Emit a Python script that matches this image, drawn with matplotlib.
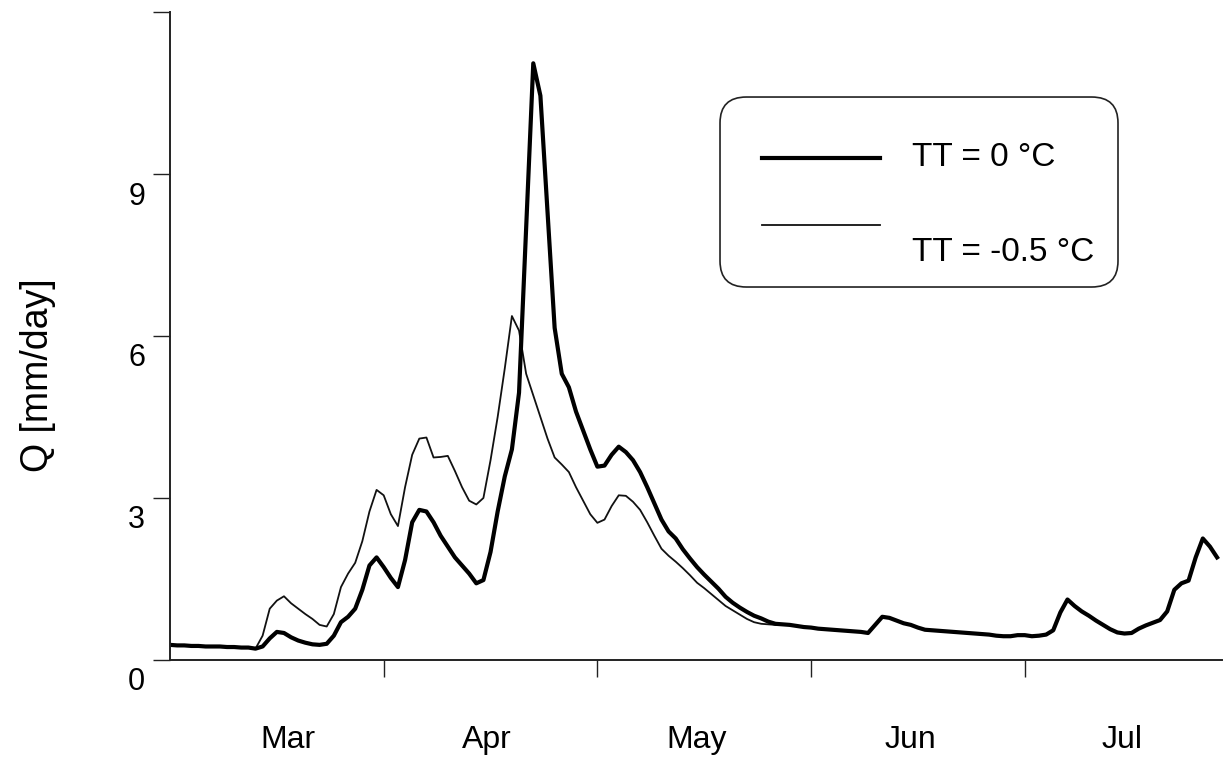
import numpy as np
import matplotlib
matplotlib.use('Agg')
import matplotlib.pyplot as plt
import matplotlib.transforms as mtransforms
from matplotlib.patches import FancyBboxPatch

plt.rcParams['font.family'] = ['Liberation Sans', 'DejaVu Sans']

# daily runoff, day 0 = start of the period shown
q_tt0 = [0.28, 0.27, 0.27, 0.26, 0.26, 0.25, 0.25, 0.25, 0.24, 0.24,
         0.23, 0.23, 0.21, 0.25, 0.40, 0.52, 0.50, 0.42, 0.36, 0.32,
         0.29, 0.28, 0.30, 0.45, 0.70, 0.80, 0.95, 1.30, 1.75, 1.90,
         1.72, 1.52, 1.35, 1.85, 2.55, 2.78, 2.75, 2.55, 2.30, 2.10,
         1.90, 1.75, 1.60, 1.42, 1.48, 2.00, 2.75, 3.40, 3.90, 4.95,
         8.00, 11.05, 10.45, 8.30, 6.15, 5.30, 5.05, 4.60, 4.25, 3.90,
         3.58, 3.60, 3.80, 3.95, 3.85, 3.70, 3.48, 3.20, 2.90, 2.60,
         2.38, 2.25, 2.05, 1.88, 1.72, 1.58, 1.45, 1.32, 1.17, 1.06,
         0.97, 0.89, 0.82, 0.77, 0.71, 0.67, 0.66, 0.65, 0.63, 0.61,
         0.60, 0.58, 0.57, 0.56, 0.55, 0.54, 0.53, 0.52, 0.50, 0.65,
         0.80, 0.78, 0.73, 0.68, 0.65, 0.60, 0.56, 0.55, 0.54, 0.53,
         0.52, 0.51, 0.50, 0.49, 0.48, 0.47, 0.45, 0.44, 0.44, 0.46,
         0.46, 0.44, 0.45, 0.47, 0.55, 0.88, 1.12, 1.00, 0.90, 0.82,
         0.73, 0.65, 0.57, 0.51, 0.49, 0.50, 0.58, 0.64, 0.69, 0.74,
         0.90, 1.30, 1.42, 1.47, 1.90, 2.25, 2.10, 1.90]

# TT = -0.5 differs only between day 13 and day 85
q_tt05_mid = [0.45, 0.95, 1.10, 1.18, 1.05, 0.95, 0.85, 0.76, 0.65, 0.62,
              0.85, 1.35, 1.60, 1.80, 2.20, 2.75, 3.15, 3.05, 2.70, 2.48,
              3.20, 3.80, 4.10, 4.12, 3.75, 3.76, 3.78, 3.50, 3.20, 2.95,
              2.88, 3.00, 3.70, 4.50, 5.40, 6.37, 6.10, 5.30, 4.90, 4.50,
              4.10, 3.75, 3.62, 3.48, 3.20, 2.95, 2.70, 2.54, 2.60, 2.85,
              3.05, 3.04, 2.93, 2.78, 2.55, 2.30, 2.06, 1.93, 1.82, 1.70,
              1.57, 1.43, 1.33, 1.22, 1.11, 1.00, 0.92, 0.84, 0.76, 0.70,
              0.67, 0.66, 0.65]
q_tt05 = q_tt0[:13] + q_tt05_mid + q_tt0[86:]

days = np.arange(len(q_tt0))
month_ticks = [30, 60, 90, 120]
month_names = ['Mar', 'Apr', 'May', 'Jun', 'Jul']
month_pos = [16.5, 44.5, 74.0, 104.0, 133.7]
labels = ['TT = 0 °C', 'TT = -0.5 °C']

fig = plt.figure(figsize=(12.24, 7.6), dpi=100)
ax = fig.add_axes([0.1389, 0.1316, 0.8595, 0.8526])

ax.plot(days, q_tt05, color='#111111', lw=1.3)
ax.plot(days, q_tt0, color='black', lw=3.0)

ax.set_xlim(0, 147.7)
ax.set_ylim(0, 12)

for s in ['top', 'right']:
    ax.spines[s].set_visible(False)
for s in ['left', 'bottom']:
    ax.spines[s].set_linewidth(1.4)
    ax.spines[s].set_color('#222222')

ax.set_yticks([0, 3, 6, 9, 12])
ax.set_yticklabels(['0', '3', '6', '9', ''])
ax.tick_params(axis='y', direction='out', length=12, width=1.0, pad=6,
               labelsize=22, color='#222222')
offset = mtransforms.ScaledTranslation(0, -0.19, fig.dpi_scale_trans)
for lbl in ax.get_yticklabels():
    lbl.set_transform(lbl.get_transform() + offset)

ax.set_xticks(month_ticks)
ax.set_xticklabels([])
ax.set_xticks(month_pos, minor=True)
ax.set_xticklabels(month_names, minor=True)
ax.tick_params(axis='x', which='major', direction='out', length=12, width=1.0,
               color='#222222')
ax.tick_params(axis='x', which='minor', length=0, pad=47, labelsize=23)

ax.set_ylabel('Q [mm/day]', fontsize=27)
ax.yaxis.set_label_coords(-0.108, 0.44)

# legend box drawn by hand: second label sits below its line
box = FancyBboxPatch((0.5228, 0.5756), 0.3783, 0.2932, transform=ax.transAxes,
                     boxstyle='round,pad=0,rounding_size=0.025',
                     facecolor='white', edgecolor='#222222', lw=1.2,
                     mutation_aspect=1.6)
ax.add_patch(box)
ax.plot([0.5627, 0.6749], [0.7752, 0.7752], transform=ax.transAxes,
        color='black', lw=3.0)
ax.plot([0.5627, 0.6749], [0.6713, 0.6713], transform=ax.transAxes,
        color='#111111', lw=1.3)
ax.text(0.7053, 0.7762, labels[0], transform=ax.transAxes, fontsize=24,
        va='center')
ax.text(0.7053, 0.6296, labels[1], transform=ax.transAxes, fontsize=24,
        va='center')

fig.savefig('out.png', dpi=100)
